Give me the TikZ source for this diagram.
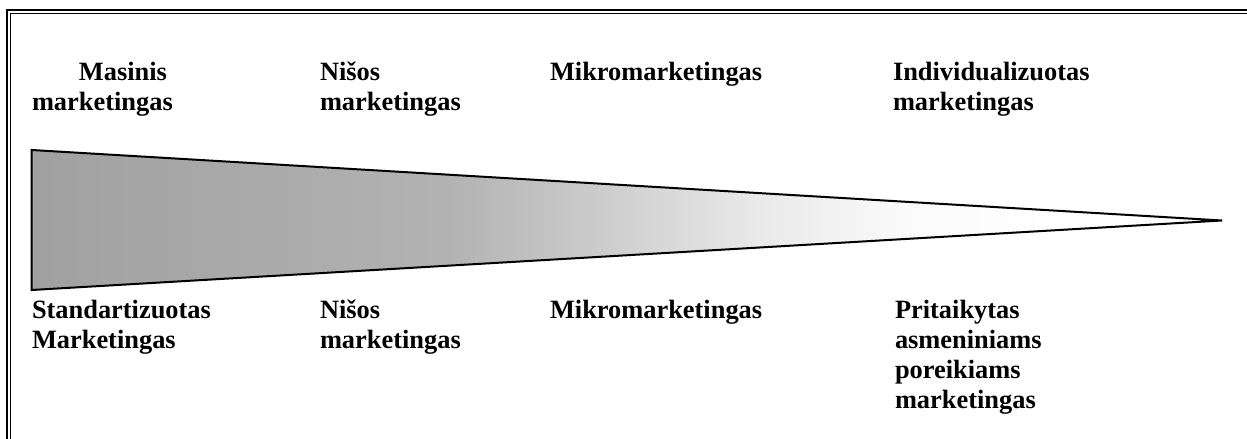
\documentclass[tikz,border=0pt]{standalone}
\usepackage{fontspec}
\setmainfont{Liberation Serif}
% horizontal fade for the funnel: the path box spans 25bp..75bp
\pgfdeclarehorizontalshading{funnelfade}{100bp}{%
  color(0bp)=(black!37);
  color(25bp)=(black!37);
  color(42.6bp)=(black!30);
  color(48.9bp)=(black!20);
  color(55.2bp)=(black!9);
  color(61.5bp)=(black!2);
  color(67.8bp)=(white);
  color(100bp)=(white)}
\tikzset{
  % multi-line labels: the base anchor sits on the last line's baseline
  lbl/.style={anchor=base west, inner sep=0pt, outer sep=0pt, align=left,
    font=\fontsize{19.8pt}{22.7pt}\selectfont\bfseries},
  frameouter/.style={draw=black, line width=1.9pt},
  frameinner/.style={draw=black, line width=0.75pt},
  funnel/.style={draw=black, line width=1.5pt, line join=miter, shading=funnelfade}
}
\begin{document}
\begin{tikzpicture}[x=0.75pt, y=-0.75pt]
\useasboundingbox (0,0) rectangle (1247,439);
\clip (0,0) rectangle (1247,439);
% double frame (right and bottom sides lie outside the page)
\draw[frameouter] (7,10) rectangle (1270,460);
\draw[frameinner] (10.5,13.5) rectangle (1265,455);
% funnel
\coordinate (tl) at (31.7,150);
\coordinate (bl) at (31.7,290);
\coordinate (apex) at (1222,220.5);
\path[funnel] (tl) -- (apex) -- (bl) -- cycle;
% upper labels
\node[lbl] (t1) at (32,110.3) {\hspace*{35.2pt}Masinis\\marketingas};
\node[lbl] (t2) at (320,110.3) {Nišos\\marketingas};
\node[lbl] (t3) at (550,80) {Mikromarketingas};
\node[lbl] (t4) at (893,110.3) {Individualizuotas\\marketingas};
% lower labels
\node[lbl] (b1) at (32,348.3) {Standartizuotas\\Marketingas};
\node[lbl] (b2) at (320,348.3) {Nišos\\marketingas};
\node[lbl] (b3) at (550,318) {Mikromarketingas};
\node[lbl] (b4) at (895,408.8) {Pritaikytas\\asmeniniams\\poreikiams\\marketingas};
\end{tikzpicture}
\end{document}
